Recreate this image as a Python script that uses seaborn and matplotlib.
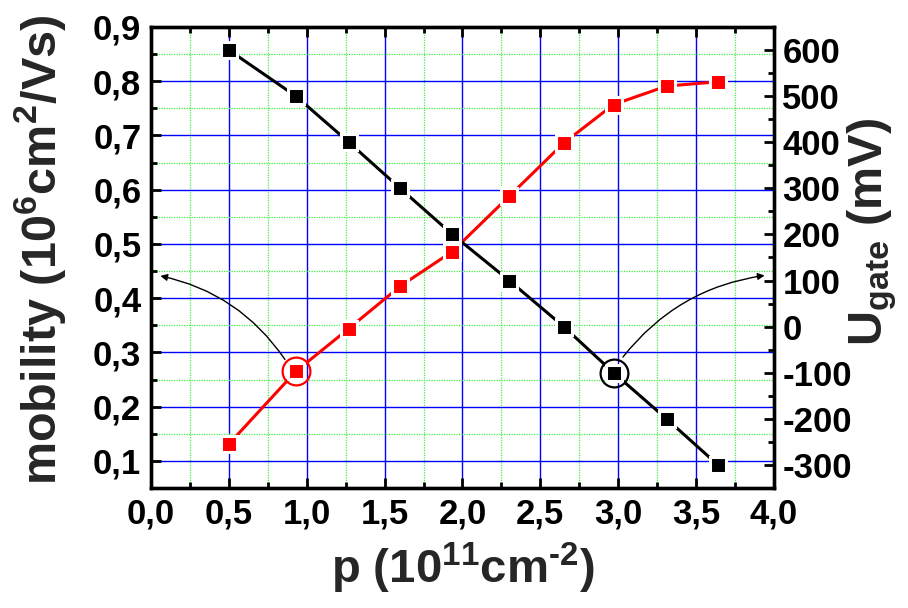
import matplotlib
matplotlib.use("Agg")
import matplotlib.pyplot as plt
import seaborn as sns
import pandas as pd
from matplotlib.ticker import FixedLocator, FuncFormatter

# ---- data ----
p_values = [0.50, 0.93, 1.27, 1.60, 1.935, 2.30, 2.65, 2.97, 3.31, 3.64]
mobility = [0.131, 0.265, 0.344, 0.422, 0.486, 0.588, 0.686, 0.757, 0.791, 0.799]
u_gate = [600, 500, 400, 300, 200, 100, 0, -100, -200, -300]

x_major = [0.0, 0.5, 1.0, 1.5, 2.0, 2.5, 3.0, 3.5, 4.0]
x_minor = [0.25, 0.75, 1.25, 1.75, 2.25, 2.75, 3.25, 3.75]
y_major = [0.1, 0.2, 0.3, 0.4, 0.5, 0.6, 0.7, 0.8, 0.9]
y_minor = [0.05, 0.15, 0.25, 0.35, 0.45, 0.55, 0.65, 0.75, 0.85]
u_major = [-300, -200, -100, 0, 100, 200, 300, 400, 500, 600]
u_minor = [-350, -250, -150, -50, 50, 150, 250, 350, 450, 550, 650]

sns.set_style("white")
plt.rcParams["font.family"] = ["Liberation Sans", "DejaVu Sans"]
plt.rcParams["font.weight"] = "bold"
plt.rcParams["mathtext.fontset"] = "custom"
plt.rcParams["mathtext.rm"] = "Liberation Sans:bold"
plt.rcParams["mathtext.it"] = "Liberation Sans:bold"
plt.rcParams["mathtext.bf"] = "Liberation Sans:bold"
plt.rcParams["mathtext.default"] = "rm"
plt.rcParams["axes.unicode_minus"] = False

df = pd.DataFrame({"p": p_values, "mobility": mobility, "ugate": u_gate})

fig = plt.figure(figsize=(9.08, 6.08), dpi=100)
ax = fig.add_axes([0.1663, 0.1974, 0.6861, 0.7582])
ax2 = ax.twinx()

# grid
ax.set_axisbelow(True)
ax.xaxis.set_major_locator(FixedLocator(x_major))
ax.xaxis.set_minor_locator(FixedLocator(x_minor))
ax.yaxis.set_major_locator(FixedLocator(y_major))
ax.yaxis.set_minor_locator(FixedLocator(y_minor))
ax.grid(which="major", color="#0000FF", linewidth=1.0)
ax.grid(which="minor", color="#44EE44", linewidth=0.9, linestyle=(0, (1, 1)))

sns.lineplot(data=df, x="p", y="mobility", ax=ax, color="#FF0000", marker="s",
             markersize=12, markeredgecolor="white", markeredgewidth=2.2,
             linewidth=2.2, sort=False)
sns.lineplot(data=df, x="p", y="ugate", ax=ax2, color="black", marker="s",
             markersize=12, markeredgecolor="white", markeredgewidth=2.2,
             linewidth=2.2, sort=False)

ax.set_xlim(0.0, 4.0)
ax.set_ylim(0.05, 0.9)
ax2.set_ylim(-350, 650)
ax2.yaxis.set_major_locator(FixedLocator(u_major))
ax2.yaxis.set_minor_locator(FixedLocator(u_minor))

fmt = FuncFormatter(lambda v, _: f"{v:.1f}".replace(".", ","))
ax.xaxis.set_major_formatter(fmt)
ax.yaxis.set_major_formatter(fmt)
ax2.yaxis.set_major_formatter(FuncFormatter(lambda v, _: f"{int(round(v))}"))

# highlight circles and arrows
ax.plot(p_values[1], mobility[1], marker="o", markersize=20, markerfacecolor="none",
        markeredgecolor="#FF0000", markeredgewidth=1.6, linestyle="none")
ax2.plot(p_values[7], u_gate[7], marker="o", markersize=20, markerfacecolor="none",
         markeredgecolor="black", markeredgewidth=1.6, linestyle="none")
ax.annotate("", xy=(0.06, 0.441), xytext=(0.86, 0.287),
            arrowprops=dict(arrowstyle="-|>", color="black", lw=1.0,
                            mutation_scale=10, shrinkA=0, shrinkB=0,
                            connectionstyle="arc3,rad=0.2"))
ax2.annotate("", xy=(3.94, 111), xytext=(3.03, -66),
             arrowprops=dict(arrowstyle="-|>", color="black", lw=1.0,
                             mutation_scale=10, shrinkA=0, shrinkB=0,
                             connectionstyle="arc3,rad=-0.2"))

# spines and ticks
for a in (ax, ax2):
    for s in a.spines.values():
        s.set_linewidth(2.4)
        s.set_color("black")

ax.tick_params(which="both", direction="in", top=True, bottom=True, left=True,
               right=False, width=2.0, colors="black", labelsize=25, pad=7)
ax.tick_params(which="major", length=7)
ax.tick_params(which="minor", length=4.5)
ax2.tick_params(which="both", direction="in", right=True, left=False, width=2.0,
                colors="black", labelsize=25, pad=6)
ax2.tick_params(which="major", length=7)
ax2.tick_params(which="minor", length=4.5)
for lab in ax.get_xticklabels() + ax.get_yticklabels() + ax2.get_yticklabels():
    lab.set_fontweight("bold")

ax.set_xlabel("p (10$^{11}$cm$^{\u2010 2}$)", fontsize=34, fontweight="bold")
ax.set_ylabel(r"mobility (10$^{6}$cm$^{2}$/Vs)", fontsize=35, fontweight="bold")
ax2.set_ylabel(r"U$_{gate}$ (mV)", fontsize=35, fontweight="bold")
ax.xaxis.set_label_coords(0.5, -0.115)
ax.yaxis.set_label_coords(-0.133, 0.516)
ax2.yaxis.set_label_coords(1.114, 0.556)

fig.savefig("out.png", dpi=100)
